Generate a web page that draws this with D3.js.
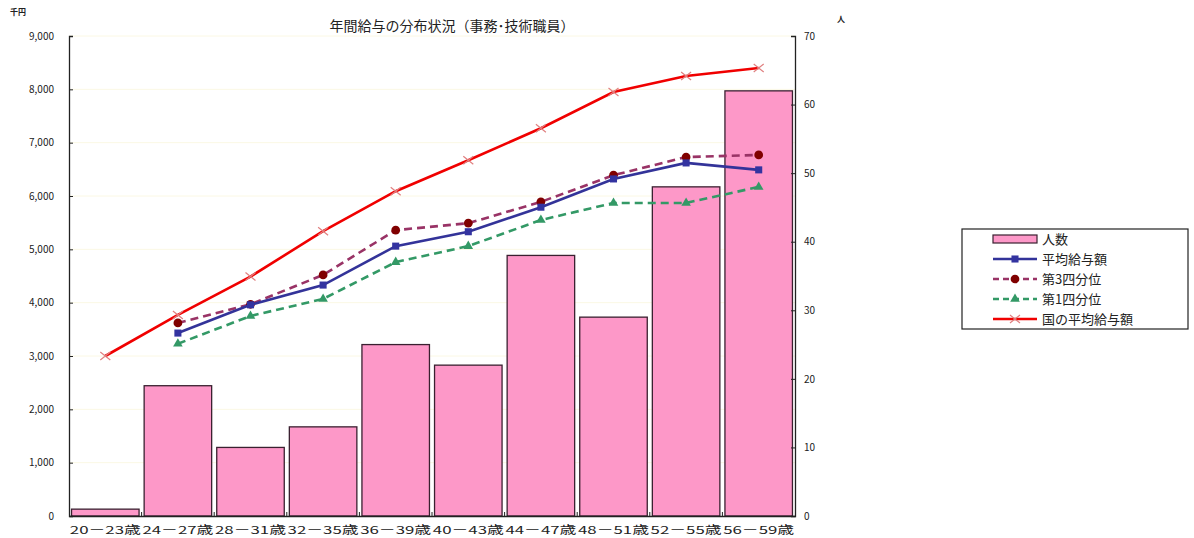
<!DOCTYPE html>
<html>
<head>
<meta charset="utf-8">
<script src="https://cdn.jsdelivr.net/npm/d3@7"></script>
<style>
  body { margin: 0; background: #fff; }
  text { font-family: "Noto Sans CJK JP", "Noto Sans", sans-serif; }
</style>
</head>
<body>
<svg id="chart" width="1194" height="538"></svg>
<script>
// data
const categories = ["20－23歳", "24－27歳", "28－31歳", "32－35歳", "36－39歳",
  "40－43歳", "44－47歳", "48－51歳", "52－55歳", "56－59歳"]
const headcount = [1, 19, 10, 13, 25, 22, 38, 29, 48, 62]
const avgPay = [null, 3430, 3960, 4330, 5060, 5330, 5790, 6320, 6620, 6490]
const q3Pay = [null, 3620, 3970, 4520, 5360, 5490, 5890, 6390, 6730, 6770]
const q1Pay = [null, 3230, 3750, 4070, 4760, 5060, 5550, 5870, 5870, 6170]
const nationalPay = [3000, 3770, 4490, 5340, 6090, 6670, 7270, 7950, 8250, 8400]
const leftTicks = [0, 1000, 2000, 3000, 4000, 5000, 6000, 7000, 8000, 9000]
const rightTicks = [0, 10, 20, 30, 40, 50, 60, 70]

const svg = d3.select("#chart")
const plotL = 69, plotR = 795, plotT = 36, plotB = 516

const x = d3.scaleBand().domain(categories).range([plotL, plotR]).paddingInner(0.07).paddingOuter(0.035)
const yL = d3.scaleLinear().domain([0, 9000]).range([plotB, plotT])
const yR = d3.scaleLinear().domain([0, 70]).range([plotB, plotT])

// faint gridlines
svg.append("g").selectAll("line").data(leftTicks.slice(1))
  .join("line")
  .attr("x1", plotL).attr("x2", plotR)
  .attr("y1", d => yL(d)).attr("y2", d => yL(d))
  .attr("stroke", "#fbf8e4").attr("stroke-width", 1)

// bars
svg.append("g").selectAll("rect").data(headcount)
  .join("rect")
  .attr("x", (d, i) => x(categories[i]))
  .attr("width", x.bandwidth())
  .attr("y", d => yR(d))
  .attr("height", d => plotB - yR(d))
  .attr("fill", "#fd98c8")
  .attr("stroke", "#3a2030").attr("stroke-width", 1.3)

// axes
const axL = svg.append("g").attr("transform", `translate(${plotL},0)`)
  .call(d3.axisLeft(yL).tickValues(leftTicks).tickFormat(d3.format(",")).tickSizeInner(-4).tickSizeOuter(-4).tickPadding(15))
const axR = svg.append("g").attr("transform", `translate(${plotR},0)`)
  .call(d3.axisRight(yR).tickValues(rightTicks).tickSizeInner(-4).tickSizeOuter(-4).tickPadding(9))
;[axL, axR].forEach(a => {
  a.selectAll("text").attr("font-family", "Liberation Sans, sans-serif").attr("font-size", 10).attr("fill", "#222")
  a.select(".domain").attr("stroke", "#222").attr("stroke-width", 1.3)
  a.selectAll(".tick line").attr("stroke", "#222")
})

const axB = svg.append("g").attr("transform", `translate(0,${plotB})`)
  .call(d3.axisBottom(x).tickSize(0).tickPadding(10))
axB.select(".domain").attr("stroke", "#222").attr("stroke-width", 1.3)
axB.selectAll("text")
  .attr("font-size", 11).attr("fill", "#222")
  .attr("textLength", 71).attr("lengthAdjust", "spacingAndGlyphs")
// small boundary ticks between categories
svg.append("g").selectAll("line").data(categories.slice(1))
  .join("line")
  .attr("x1", d => x(d) - x.step() * x.paddingInner() / 2)
  .attr("x2", d => x(d) - x.step() * x.paddingInner() / 2)
  .attr("y1", plotB).attr("y2", plotB - 4)
  .attr("stroke", "#222")

// lines
const cx = i => x(categories[i]) + x.bandwidth() / 2
const lineGen = d3.line().defined(d => d != null).x((d, i) => cx(i)).y(d => yL(d))

const xMark = "M-5,-4L5,4M-5,4L5,-4"
const series = [
  { name: "国の平均給与額", data: nationalPay, color: "#f00000", dash: null, width: 2.6, mark: "x", markColor: "#e08080" },
  { name: "第3四分位", data: q3Pay, color: "#993366", dash: "8,5", width: 2.6, mark: d3.symbolCircle, markColor: "#800000", size: 60 },
  { name: "平均給与額", data: avgPay, color: "#333399", dash: null, width: 2.6, mark: d3.symbolSquare, markColor: "#3333a0", size: 50 },
  { name: "第1四分位", data: q1Pay, color: "#339966", dash: "8,5", width: 2.6, mark: d3.symbolTriangle, markColor: "#339966", size: 40 }
]

function drawMark(g, s) {
  if (s.mark === "x") {
    g.append("path").attr("d", xMark).attr("stroke", s.markColor).attr("stroke-width", 1.2).attr("fill", "none")
  } else {
    g.append("path").attr("d", d3.symbol(s.mark, s.size)()).attr("fill", s.markColor)
  }
}

series.forEach(s => {
  svg.append("path").datum(s.data)
    .attr("d", lineGen)
    .attr("fill", "none")
    .attr("stroke", s.color)
    .attr("stroke-width", s.width)
    .attr("stroke-dasharray", s.dash)
  s.data.forEach((d, i) => {
    if (d == null) return
    const g = svg.append("g").attr("transform", `translate(${cx(i)},${yL(d)})`)
    drawMark(g, s)
  })
})

// title and units
svg.append("text").attr("x", 452).attr("y", 31).attr("text-anchor", "middle")
  .attr("font-size", 14).attr("fill", "#222").text("年間給与の分布状況（事務･技術職員）")
svg.append("text").attr("x", 10).attr("y", 15).attr("font-size", 8).attr("font-weight", "bold").attr("fill", "#222").text("千円")
svg.append("text").attr("x", 837).attr("y", 22).attr("font-size", 8).attr("font-weight", "bold").attr("fill", "#222").text("人")

// legend
const legend = svg.append("g").attr("transform", "translate(962,229)")
legend.append("rect").attr("width", 226).attr("height", 100).attr("fill", "#fff").attr("stroke", "#222").attr("stroke-width", 1.2)
const legendItems = [
  { name: "人数", bar: true },
  series[2], series[1], series[3], series[0]
]
legendItems.forEach((s, i) => {
  const row = legend.append("g").attr("transform", `translate(0,${10 + i * 20})`)
  if (s.bar) {
    row.append("rect").attr("x", 31).attr("y", -4).attr("width", 44).attr("height", 8)
      .attr("fill", "#fd98c8").attr("stroke", "#3a2030").attr("stroke-width", 1.2)
  } else {
    row.append("line").attr("x1", 31).attr("x2", 75).attr("y1", 0).attr("y2", 0)
      .attr("stroke", s.color).attr("stroke-width", s.width).attr("stroke-dasharray", s.dash ? "6,4" : null)
    drawMark(row.append("g").attr("transform", "translate(53,0)"), s)
  }
  row.append("text").attr("x", 80).attr("y", 5).attr("font-size", 13).attr("fill", "#222").text(s.name)
})
</script>
</body>
</html>
